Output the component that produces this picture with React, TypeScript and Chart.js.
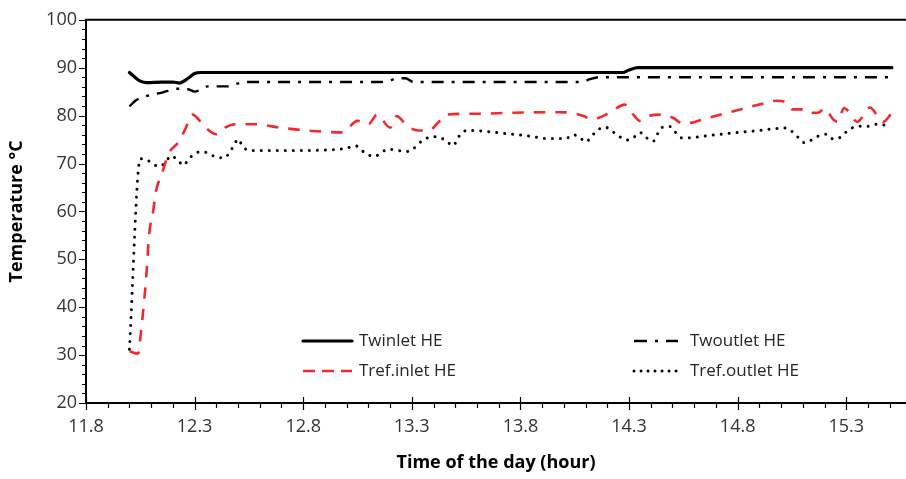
import React, { useEffect, useRef } from "react";
import { Chart, registerables } from "chart.js";

Chart.register(...registerables);

// Axis ticks
const xTickValues = [11.8, 12.3, 12.8, 13.3, 13.8, 14.3, 14.8, 15.3];
const xMin = 11.8;
const xMax = 15.575;
const yMin = 20;
const yMax = 100;

// Twinlet HE (water inlet)
const twinletTime = [12.0, 12.02, 12.05, 12.08, 12.15, 12.2, 12.23, 12.27, 12.3, 12.33, 13.0, 14.0, 14.27, 14.3, 14.34, 14.37, 15.0, 15.51];
const twinletTemp = [89.0, 88.2, 87.2, 86.9, 87.0, 87.0, 86.8, 87.8, 88.8, 89.0, 89.0, 89.0, 89.0, 89.5, 90.0, 90.0, 90.0, 90.0];

// Twoutlet HE (water outlet)
const twoutletTime = [12.0, 12.03, 12.08, 12.15, 12.22, 12.27, 12.3, 12.33, 12.36, 12.45, 12.49, 12.53, 13.15, 13.2, 13.23, 13.27, 13.31, 14.08, 14.12, 14.16, 15.51];
const twoutletTemp = [81.9, 83.2, 84.1, 84.8, 85.6, 85.5, 85.0, 85.4, 86.1, 86.1, 86.6, 87.0, 87.0, 87.3, 87.8, 87.8, 87.0, 87.0, 87.6, 88.0, 88.0];

// Tref.inlet HE (refrigerant inlet)
const refInletTime = [12.0, 12.04, 12.05, 12.07, 12.08, 12.09, 12.11, 12.12, 12.15, 12.18, 12.23, 12.26, 12.29, 12.35, 12.4, 12.44, 12.49, 12.58, 12.69, 12.84, 12.98, 13.05, 13.1, 13.14, 13.2, 13.23, 13.28, 13.33, 13.38, 13.42, 13.46, 13.61, 13.76, 13.98, 14.03, 14.09, 14.13, 14.18, 14.22, 14.28, 14.32, 14.35, 14.39, 14.45, 14.5, 14.55, 14.67, 14.78, 14.9, 14.98, 15.02, 15.05, 15.1, 15.13, 15.17, 15.2, 15.24, 15.26, 15.29, 15.31, 15.35, 15.41, 15.44, 15.47, 15.51];
const refInletTemp = [30.8, 30.3, 33.5, 42.5, 48.0, 54.9, 60.3, 63.8, 67.9, 72.0, 74.7, 77.5, 80.2, 77.5, 76.1, 77.5, 78.2, 78.2, 77.5, 76.8, 76.5, 78.9, 78.2, 80.2, 77.5, 79.9, 77.8, 76.9, 76.9, 78.5, 80.2, 80.4, 80.6, 80.7, 80.6, 79.9, 79.2, 79.9, 80.9, 82.3, 80.2, 78.9, 79.9, 80.2, 79.6, 78.3, 79.6, 80.9, 82.3, 83.1, 82.8, 81.3, 81.3, 80.6, 80.6, 81.5, 79.2, 78.7, 81.6, 80.9, 78.7, 81.7, 80.2, 78.7, 80.6];

// Tref.outlet HE (refrigerant outlet)
const refOutletTime = [12.0, 12.05, 12.08, 12.11, 12.14, 12.17, 12.19, 12.22, 12.25, 12.27, 12.3, 12.33, 12.37, 12.4, 12.44, 12.46, 12.48, 12.5, 12.52, 12.55, 12.75, 12.9, 13.0, 13.04, 13.09, 13.13, 13.16, 13.19, 13.23, 13.27, 13.3, 13.33, 13.36, 13.4, 13.43, 13.46, 13.49, 13.51, 13.53, 13.57, 13.64, 13.72, 13.83, 13.93, 14.01, 14.04, 14.07, 14.1, 14.13, 14.15, 14.19, 14.22, 14.25, 14.29, 14.32, 14.35, 14.38, 14.41, 14.43, 14.45, 14.49, 14.51, 14.54, 14.58, 14.66, 14.76, 14.88, 14.98, 15.02, 15.05, 15.08, 15.11, 15.14, 15.18, 15.21, 15.24, 15.27, 15.3, 15.33, 15.37, 15.41, 15.44, 15.48];
const refOutletTemp = [31.2, 71.0, 70.8, 69.8, 69.4, 70.5, 71.6, 70.8, 69.6, 70.8, 72.0, 72.5, 72.0, 71.3, 71.2, 72.3, 73.7, 75.1, 73.7, 72.7, 72.7, 72.8, 73.2, 73.7, 72.0, 71.5, 72.3, 73.0, 72.8, 72.5, 72.8, 74.1, 75.1, 75.6, 75.4, 74.7, 73.7, 75.1, 76.5, 76.9, 76.7, 76.3, 75.8, 75.2, 75.2, 76.0, 75.6, 74.5, 75.8, 76.8, 77.6, 76.8, 75.8, 74.9, 75.4, 76.5, 75.4, 74.6, 76.1, 77.5, 77.7, 76.7, 75.4, 75.4, 75.8, 76.3, 76.8, 77.3, 77.4, 76.7, 75.4, 74.3, 74.9, 75.9, 76.1, 75.1, 75.4, 76.6, 77.5, 77.8, 77.8, 78.2, 78.0];

const seriesLabels = ["Twinlet HE", "Twoutlet HE", "Tref.inlet HE", "Tref.outlet HE"];

const FONT = "'Open Sans', 'DejaVu Sans', sans-serif";
const RED = "#EE2A2E";

const toPoints = (t: number[], v: number[]) => t.map((x, i) => ({ x, y: v[i] }));

// Axis lines, top frame line and major/minor tick marks
const framePlugin = {
  id: "frame",
  afterDraw(chart: any) {
    const { ctx, chartArea: a, scales } = chart;
    const xs = scales.x;
    const ys = scales.y;
    ctx.save();
    ctx.strokeStyle = "#000";
    ctx.lineWidth = 2;
    ctx.setLineDash([]);
    ctx.beginPath();
    ctx.moveTo(a.left, a.top);
    ctx.lineTo(a.right, a.top);
    ctx.moveTo(a.left, a.top - 1);
    ctx.lineTo(a.left, a.bottom + 1);
    ctx.moveTo(a.left - 1, a.bottom);
    ctx.lineTo(a.right, a.bottom);
    ctx.stroke();

    ctx.lineWidth = 1.2;
    ctx.beginPath();
    for (let i = 0; ; i++) {
      const v = xMin + i * 0.1;
      if (v > xMax + 1e-9) break;
      const px = Math.round(xs.getPixelForValue(v)) + 0.5;
      const major = i % 5 === 0;
      ctx.moveTo(px, major ? a.bottom - 6 : a.bottom);
      ctx.lineTo(px, a.bottom + (major ? 7 : 5));
    }
    for (let i = 0; ; i++) {
      const v = yMin + i * 2;
      if (v > yMax + 1e-9) break;
      const py = Math.round(ys.getPixelForValue(v)) + 0.5;
      const major = i % 5 === 0;
      ctx.moveTo(a.left, py);
      ctx.lineTo(a.left - (major ? 7 : 4), py);
    }
    ctx.stroke();
    ctx.restore();
  },
};

// Two-column legend drawn inside the plot area
const legendPlugin = {
  id: "insideLegend",
  afterDraw(chart: any) {
    const { ctx } = chart;
    const cells = [
      { ds: 0, x: 303, y: 341, len: 49, gap: 7 },
      { ds: 1, x: 634, y: 341, len: 44, gap: 12 },
      { ds: 2, x: 303, y: 371, len: 49, gap: 7 },
      { ds: 3, x: 634, y: 371, len: 44, gap: 12 },
    ];
    ctx.save();
    ctx.font = `17px ${FONT}`;
    ctx.fillStyle = "#262626";
    ctx.textBaseline = "middle";
    ctx.textAlign = "left";
    for (const c of cells) {
      const d = chart.data.datasets[c.ds];
      ctx.strokeStyle = d.borderColor;
      ctx.lineWidth = d.borderWidth;
      ctx.lineCap = d.borderCapStyle || "butt";
      ctx.setLineDash(d.legendDash || d.borderDash || []);
      ctx.beginPath();
      ctx.moveTo(c.x, c.y);
      ctx.lineTo(c.x + c.len, c.y);
      ctx.stroke();
      ctx.setLineDash([]);
      ctx.fillText(d.label, c.x + c.len + c.gap, c.y);
    }
    ctx.restore();
  },
};

export default function App() {
  const ref = useRef<HTMLCanvasElement>(null);

  useEffect(() => {
    const canvas = ref.current;
    if (!canvas) return;
    const common = {
      pointRadius: 0,
      pointHoverRadius: 0,
      fill: false,
      cubicInterpolationMode: "monotone" as const,
    };
    const chart = new Chart(canvas, {
      type: "line",
      data: {
        datasets: [
          {
            ...common,
            label: seriesLabels[0],
            data: toPoints(twinletTime, twinletTemp),
            borderColor: "#000",
            borderWidth: 3.2,
            borderCapStyle: "round",
          },
          {
            ...common,
            label: seriesLabels[1],
            data: toPoints(twoutletTime, twoutletTemp),
            borderColor: "#000",
            borderWidth: 2.4,
            borderDash: [12, 8, 3, 8],
            legendDash: [13, 8, 3, 8],
          } as any,
          {
            ...common,
            label: seriesLabels[2],
            data: toPoints(refInletTime, refInletTemp),
            borderColor: RED,
            borderWidth: 2.6,
            borderDash: [11.5, 10],
            legendDash: [12, 7],
          } as any,
          {
            ...common,
            label: seriesLabels[3],
            data: toPoints(refOutletTime, refOutletTemp),
            borderColor: "#000",
            borderWidth: 3,
            borderCapStyle: "round",
            borderDash: [0.01, 8],
            legendDash: [0.01, 7],
          } as any,
        ],
      },
      options: {
        animation: false,
        responsive: false,
        maintainAspectRatio: false,
        layout: { padding: { top: 14, right: 0, bottom: 0, left: 0 } },
        plugins: {
          legend: { display: false },
          tooltip: { enabled: false },
        },
        scales: {
          x: {
            type: "linear",
            min: xMin,
            max: xMax,
            grid: { display: false, drawTicks: false },
            border: { display: false },
            afterBuildTicks: (s: any) => {
              s.ticks = xTickValues.map((v) => ({ value: v }));
            },
            afterFit: (s: any) => {
              s.height = 76;
            },
            ticks: {
              autoSkip: false,
              maxRotation: 0,
              padding: 13,
              color: "#333",
              font: { family: FONT, size: 18 },
              callback: (v: any) => Number(v).toFixed(1),
            },
            title: {
              display: true,
              text: "Time of the day (hour)",
              color: "#000",
              font: { family: FONT, size: 18, weight: "bold" },
              padding: { top: 0, bottom: 5 },
            },
          },
          y: {
            type: "linear",
            min: yMin,
            max: yMax,
            grid: { display: false, drawTicks: false },
            border: { display: false },
            afterFit: (s: any) => {
              s.width = 86;
            },
            ticks: {
              stepSize: 10,
              padding: 9,
              color: "#333",
              font: { family: FONT, size: 18 },
            },
            title: {
              display: true,
              text: "Temperature °C",
              color: "#000",
              font: { family: FONT, size: 18, weight: "bold" },
              padding: { top: 6, bottom: 0 },
            },
          },
        },
      },
      plugins: [framePlugin, legendPlugin],
    });
    return () => chart.destroy();
  }, []);

  return (
    <div style={{ position: "absolute", left: 0, top: 0, width: 906, height: 479, background: "#fff" }}>
      <canvas ref={ref} width={906} height={479} style={{ display: "block", width: 906, height: 479 }} />
    </div>
  );
}
